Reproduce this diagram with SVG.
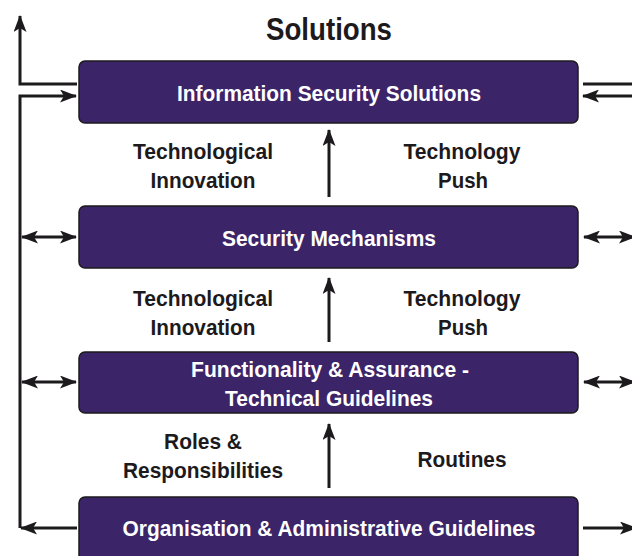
<svg xmlns="http://www.w3.org/2000/svg" width="632" height="556" viewBox="0 0 632 556">
  <style>
    .box { fill: #3b2468; stroke: #1c1a1c; stroke-width: 1.5; }
    .bt { fill: #ffffff; font-family: "Liberation Sans", Arial, sans-serif; font-weight: bold; font-size: 22.5px; text-anchor: middle; }
    .lt { fill: #1c1a1c; font-family: "Liberation Sans", Arial, sans-serif; font-weight: bold; font-size: 22.5px; text-anchor: middle; }
    .title { fill: #1c1a1c; font-family: "Liberation Sans", Arial, sans-serif; font-weight: bold; font-size: 32px; text-anchor: middle; }
    .ln { fill: none; stroke: #1c1a1c; stroke-width: 3; }
  </style>
  <defs>
    <marker id="ah" viewBox="0 0 17 13" refX="16" refY="6.5" markerWidth="17" markerHeight="13" markerUnits="userSpaceOnUse" orient="auto-start-reverse">
      <path d="M0,0 L17,6.5 L0,13 L4,6.5 Z" fill="#1c1a1c"/>
    </marker>
  </defs>

  <text class="title" x="329" y="40" textLength="126" lengthAdjust="spacingAndGlyphs">Solutions</text>

  <g id="connectors">
    <!-- left feedback loop -->
    <path class="ln" d="M77,84 H20 V16" marker-end="url(#ah)"/>
    <path class="ln" d="M20,528 V96 H76" marker-end="url(#ah)"/>
    <path class="ln" d="M77,528 H21" marker-end="url(#ah)"/>
    <path class="ln" d="M22,237 H76" marker-start="url(#ah)" marker-end="url(#ah)"/>
    <path class="ln" d="M22,382 H76" marker-start="url(#ah)" marker-end="url(#ah)"/>
    <!-- right side -->
    <path class="ln" d="M632,84 H583"/>
    <path class="ln" d="M632,96 H583" marker-end="url(#ah)"/>
    <path class="ln" d="M584,237 H635" marker-start="url(#ah)" marker-end="url(#ah)"/>
    <path class="ln" d="M584,382 H635" marker-start="url(#ah)" marker-end="url(#ah)"/>
    <path class="ln" d="M583,528 H636" marker-end="url(#ah)"/>
    <!-- upward flow -->
    <path class="ln" d="M329,197 V130" marker-end="url(#ah)"/>
    <path class="ln" d="M329,342 V278" marker-end="url(#ah)"/>
    <path class="ln" d="M329,488 V424" marker-end="url(#ah)"/>
  </g>

  <g id="info-security-solutions">
    <rect class="box" x="79" y="61" width="499" height="62" rx="6"/>
    <text class="bt" x="329" y="101" textLength="304" lengthAdjust="spacingAndGlyphs">Information Security Solutions</text>
  </g>

  <g id="security-mechanisms">
    <rect class="box" x="79" y="206" width="499" height="62" rx="6"/>
    <text class="bt" x="329" y="246" textLength="214" lengthAdjust="spacingAndGlyphs">Security Mechanisms</text>
  </g>

  <g id="functionality-assurance">
    <rect class="box" x="79" y="352" width="499" height="61" rx="6"/>
    <text class="bt" x="330" y="377" textLength="278" lengthAdjust="spacingAndGlyphs">Functionality &amp; Assurance -</text>
    <text class="bt" x="329" y="406" textLength="208" lengthAdjust="spacingAndGlyphs">Technical Guidelines</text>
  </g>

  <g id="organisation-guidelines">
    <rect class="box" x="79" y="497" width="499" height="64" rx="6"/>
    <text class="bt" x="329" y="536" textLength="413" lengthAdjust="spacingAndGlyphs">Organisation &amp; Administrative Guidelines</text>
  </g>

  <g id="label-tech-innovation-1">
    <text class="lt" x="203" y="159" textLength="140" lengthAdjust="spacingAndGlyphs">Technological</text>
    <text class="lt" x="203" y="188" textLength="105" lengthAdjust="spacingAndGlyphs">Innovation</text>
  </g>
  <g id="label-tech-push-1">
    <text class="lt" x="462" y="159" textLength="117" lengthAdjust="spacingAndGlyphs">Technology</text>
    <text class="lt" x="463" y="188" textLength="50" lengthAdjust="spacingAndGlyphs">Push</text>
  </g>
  <g id="label-tech-innovation-2">
    <text class="lt" x="203" y="306" textLength="140" lengthAdjust="spacingAndGlyphs">Technological</text>
    <text class="lt" x="203" y="335" textLength="105" lengthAdjust="spacingAndGlyphs">Innovation</text>
  </g>
  <g id="label-tech-push-2">
    <text class="lt" x="462" y="306" textLength="117" lengthAdjust="spacingAndGlyphs">Technology</text>
    <text class="lt" x="463" y="335" textLength="50" lengthAdjust="spacingAndGlyphs">Push</text>
  </g>
  <g id="label-roles">
    <text class="lt" x="203" y="449" textLength="78" lengthAdjust="spacingAndGlyphs">Roles &amp;</text>
    <text class="lt" x="203" y="478" textLength="160" lengthAdjust="spacingAndGlyphs">Responsibilities</text>
  </g>
  <g id="label-routines">
    <text class="lt" x="462" y="467" textLength="89" lengthAdjust="spacingAndGlyphs">Routines</text>
  </g>
</svg>
